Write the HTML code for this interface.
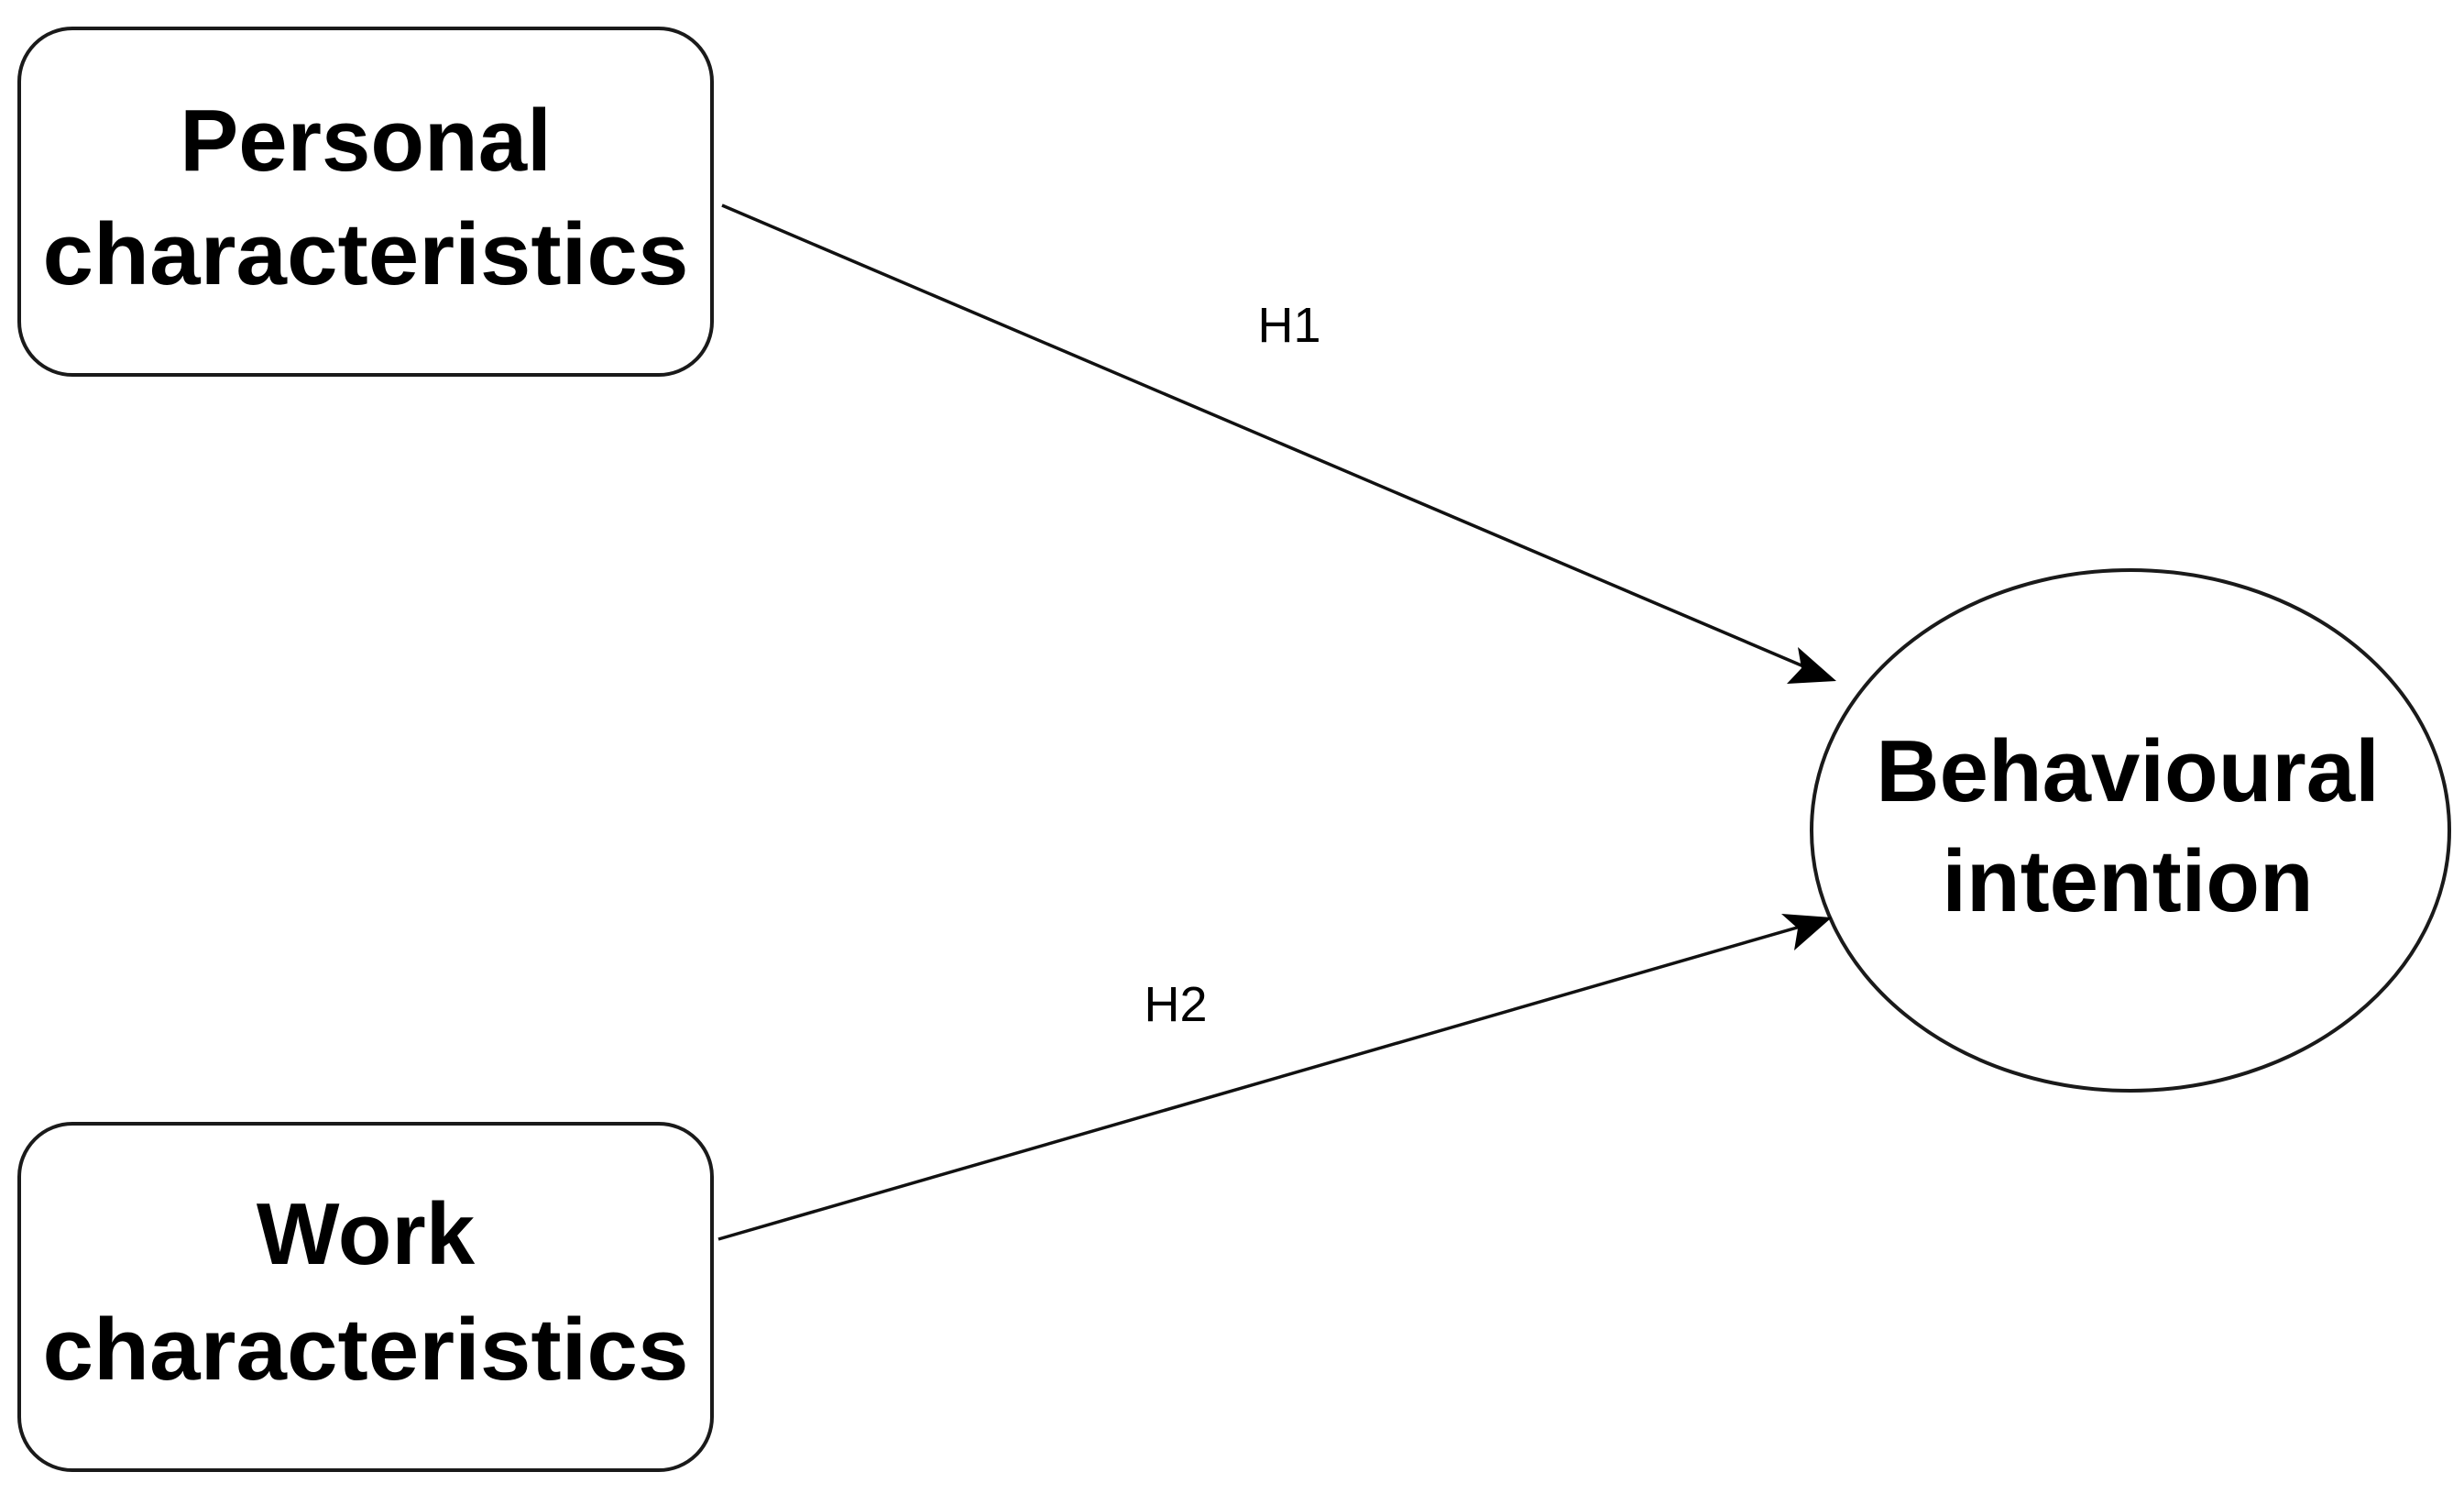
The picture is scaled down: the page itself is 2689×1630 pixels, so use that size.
<!DOCTYPE html>
<html><head><meta charset="utf-8"><style>
html,body{margin:0;padding:0;background:#fff;}
svg{display:block;}
</style></head><body>
<svg width="2689" height="1630" viewBox="0 0 2689 1630" xmlns="http://www.w3.org/2000/svg">
<defs>
<marker id="ah" markerWidth="12" markerHeight="12" refX="10" refY="6" orient="auto" markerUnits="userSpaceOnUse" viewBox="0 0 12 12">
</marker>
</defs>
<g fill="#fff" stroke="#1a1a1a" stroke-width="4">
<rect x="21" y="31" width="756" height="378" rx="58" ry="58"/>
<rect x="21" y="1226" width="756" height="378" rx="58" ry="58"/>
<ellipse cx="2325" cy="906" rx="348" ry="284"/>
</g>
<g stroke="#111" stroke-width="3.5" fill="none">
<line x1="788" y1="224" x2="1980" y2="732"/>
<line x1="784" y1="1352" x2="1975" y2="1008"/>
</g>
<g fill="#000">
<polygon points="2004,743 1950,746 1966,729 1962,706"/>
<polygon points="1999,1001 1958,1037 1962,1013 1944,997"/>
</g>
<g font-family="Liberation Sans, Arial, sans-serif" font-weight="bold" font-size="96" text-anchor="middle" fill="#000">
<text x="399" y="186">Personal</text>
<text x="399" y="310" textLength="705" lengthAdjust="spacingAndGlyphs">characteristics</text>
<text x="399" y="1379">Work</text>
<text x="399" y="1505" textLength="705" lengthAdjust="spacingAndGlyphs">characteristics</text>
<text x="2322" y="874">Behavioural</text>
<text x="2322" y="994">intention</text>
</g>
<g font-family="Liberation Sans, Arial, sans-serif" font-size="54" text-anchor="middle" fill="#000">
<text x="1407" y="373">H1</text>
<text x="1283" y="1114">H2</text>
</g>
</svg>
</body></html>
